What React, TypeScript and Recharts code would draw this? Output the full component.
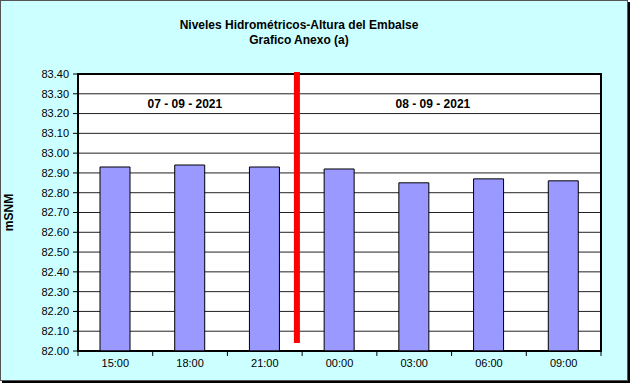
import {
  BarChart,
  Bar,
  XAxis,
  YAxis,
  CartesianGrid,
  ReferenceLine,
  ReferenceArea,
  ReferenceDot,
  Label,
} from "recharts";

// hourly readings, 7 & 8 Sept 2021
const hours = ["15:00", "18:00", "21:00", "00:00", "03:00", "06:00", "09:00"];
const levels = [82.93, 82.94, 82.93, 82.92, 82.85, 82.87, 82.86];
const yTicks = [
  82.0, 82.1, 82.2, 82.3, 82.4, 82.5, 82.6, 82.7, 82.8, 82.9, 83.0, 83.1, 83.2,
  83.3, 83.4,
];
const slotTicks = [0, 1, 2, 3, 4, 5, 6, 7];
const dayLabels = ["07 - 09 - 2021", "08 - 09 - 2021"];
const dayLabelPos = [1.43, 4.75];
const dayLabelLevel = 83.25;
// day change marker, in slot units
const markerSlot = 2.93;
const markerRange = [82.04, 83.41];
const Y_MIN = 82;
const TICK_DEPTH = 0.025; // tick marks below the axis, in mSNM

const data = hours.map((h, i) => ({ hora: h, slot: i + 0.5, nivel: levels[i] }));

const FONT = "'Liberation Sans', Arial, sans-serif";

export default function App() {
  return (
    <div
      style={{
        position: "absolute",
        left: 0,
        top: 0,
        width: 631,
        height: 384,
        fontFamily: FONT,
      }}
    >
      <div
        style={{
          position: "absolute",
          left: 0,
          top: 0,
          width: 626,
          height: 379,
          background: "#CCFFFF",
          border: "1px solid #555",
          boxShadow: "2px 2px 0 #000",
        }}
      />
      <div
        style={{
          position: "absolute",
          left: 0,
          top: 18,
          width: 598,
          textAlign: "center",
          fontSize: 12,
          fontWeight: "bold",
          lineHeight: "15px",
          color: "#000",
        }}
      >
        Niveles Hidrométricos-Altura del Embalse
        <br />
        Grafico Anexo (a)
      </div>
      <div style={{ position: "absolute", left: 0, top: 0 }}>
        <BarChart
          width={631}
          height={384}
          data={data}
          margin={{ top: 74, right: 30, left: 0, bottom: 0 }}
        >
          <CartesianGrid
            xAxisId="cat"
            vertical={false}
            stroke="#222"
            fill="#fff"
            fillOpacity={1}
          />
          {/* slot axis, hidden: used to place the annotations */}
          <XAxis
            xAxisId={0}
            dataKey="slot"
            type="number"
            domain={[0, 7]}
            allowDataOverflow
            height={0}
            hide
          />
          <XAxis
            xAxisId="cat"
            dataKey="hora"
            height={33}
            tickLine={false}
            tickSize={6}
            tickMargin={2}
            axisLine={{ stroke: "#000" }}
            tick={{ fill: "#000", fontSize: 11, fontFamily: FONT }}
          />
          <YAxis
            width={78}
            domain={[Y_MIN, 83.4]}
            ticks={yTicks}
            allowDataOverflow
            interval={0}
            tickFormatter={(v: number) => v.toFixed(2)}
            tickSize={5}
            tickMargin={4}
            tickLine={{ stroke: "#000" }}
            axisLine={{ stroke: "#000" }}
            tick={{ fill: "#000", fontSize: 11, fontFamily: FONT }}
          >
            <Label
              value="mSNM"
              angle={-90}
              position="center"
              dx={-30}
              style={{ fontWeight: "bold", fontSize: 12, fill: "#000", fontFamily: FONT }}
            />
          </YAxis>
          <Bar
            xAxisId="cat"
            dataKey="nivel"
            fill="#9999FF"
            stroke="#000"
            strokeWidth={1}
            barSize={30}
            isAnimationActive={false}
          />
          <ReferenceArea
            x1={0}
            x2={7}
            y1={Y_MIN}
            y2={83.4}
            fill="none"
            stroke="#000"
            strokeWidth={2}
            ifOverflow="visible"
          />
          {slotTicks.map((s) => (
            <ReferenceLine
              key={s}
              segment={[
                { x: s, y: Y_MIN },
                { x: s, y: Y_MIN - TICK_DEPTH },
              ]}
              stroke="#000"
              strokeWidth={1}
              ifOverflow="visible"
            />
          ))}
          <ReferenceLine
            segment={[
              { x: markerSlot, y: markerRange[0] },
              { x: markerSlot, y: markerRange[1] },
            ]}
            stroke="#FF0000"
            strokeWidth={6}
            ifOverflow="visible"
          />
          {dayLabels.map((d, i) => (
            <ReferenceDot
              key={d}
              x={dayLabelPos[i]}
              y={dayLabelLevel}
              r={0}
              fill="none"
              stroke="none"
              label={{
                value: d,
                position: "center",
                fill: "#000",
                fontSize: 12,
                fontWeight: "bold",
                fontFamily: FONT,
              }}
            />
          ))}
        </BarChart>
      </div>
    </div>
  );
}
